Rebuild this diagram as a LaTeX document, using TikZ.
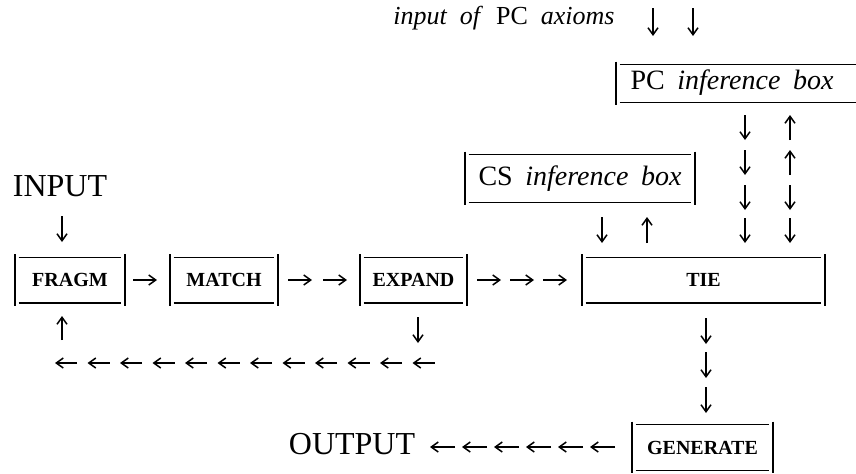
\documentclass[tikz,border=0pt]{standalone}
\usepackage{fontspec}
\setmainfont{Liberation Serif}
\usetikzlibrary{arrows.meta,calc}

\tikzset{
  vbar/.style={line width=1pt},
  hbar/.style={line width=0.6pt},
  flow/.style={line width=0.75pt,-{Straight Barb[length=3.5pt,width=5pt]}},
  stage/.style={inner sep=0pt,minimum height=22.5pt,font=\fontsize{10}{12}\selectfont\bfseries},
  infobox/.style={inner sep=0pt,font=\fontsize{14}{16}\selectfont},
  biglabel/.style={inner sep=0pt,font=\fontsize{16}{18}\selectfont},
}

% a box drawn as two heavy side bars and two lighter rules
\newcommand\barbox[1]{%
  \draw[vbar] ([yshift=1.5pt]#1.north west) -- ([yshift=-1.5pt]#1.south west);
  \draw[vbar] ([yshift=1.5pt]#1.north east) -- ([yshift=-1.5pt]#1.south east);
  \draw[hbar] ([xshift=2pt]#1.north west) -- ([xshift=-2pt]#1.north east);
  \draw[hbar] ([xshift=2pt]#1.south west) -- ([xshift=-2pt]#1.south east);
}

\begin{document}
\begin{tikzpicture}[x=0.5pt,y=-0.5pt]
\useasboundingbox (0,0) rectangle (856,473);

% pipeline stages
\node[stage,minimum width=55pt]   (fragm)  at (70,280)    {FRAGM};
\node[stage,minimum width=54pt]   (match)  at (224,280)   {MATCH};
\node[stage,minimum width=53.5pt] (expand) at (413.5,280) {EXPAND};
\node[stage,minimum width=121.5pt](tie)    at (703.5,280) {TIE};
\node[stage,minimum width=70.5pt] (gen)    at (702.5,447.5) {GENERATE};
\foreach \b in {fragm,match,expand,tie,gen} {\barbox{\b}}

% inference boxes (the PC box runs on past the right margin)
\node[infobox,minimum width=115pt,minimum height=23.5pt] (cs) at (580,178.5)
  {CS\hspace{0.45em}\textit{inference\hspace{0.45em}box}};
\node[inner sep=0pt,minimum width=125pt,minimum height=18.5pt] (pcframe) at (741,83.5) {};
\node[infobox,anchor=base] (pc) at (732,89)
  {PC\hspace{0.45em}\textit{inference\hspace{0.45em}box}};
\barbox{cs}
\barbox{pcframe}

% labels
\node[biglabel] (input)  at (60,186)  {INPUT};
\node[biglabel] (output) at (352,444) {OUTPUT};
\node[inner sep=0pt,anchor=base east,font=\fontsize{13}{15}\selectfont] (axioms) at (615,24)
  {\textit{input\hspace{0.5em}of}\hspace{0.5em}PC\hspace{0.5em}\textit{axioms}};

% input into FRAGM
\draw[flow] (62,216) -- (62,242);

% forward flow between stages
\draw[flow] (133,280) -- (157,280);
\foreach \x in {288,323} {\draw[flow] (\x,280) -- (\x+24,280);}
\foreach \x in {477,510,543} {\draw[flow] (\x,280) -- (\x+24,280);}

% feedback from EXPAND to FRAGM
\draw[flow] (418,317) -- (418,343);
\foreach \i in {0,...,11} {\draw[flow] (55+32.5*\i+22,363) -- (55+32.5*\i,363);}
\draw[flow] (62,340) -- (62,316);

% TIE to GENERATE to OUTPUT
\foreach \y in {318,352,387} {\draw[flow] (706,\y) -- (706,\y+26);}
\foreach \i in {0,...,5} {\draw[flow] (430+32*\i+25,447) -- (430+32*\i,447);}

% CS box exchange with TIE
\draw[flow] (602,217) -- (602,243);
\draw[flow] (647,243) -- (647,217);

% PC box exchange with TIE
\foreach \y in {115,150,185,218} {\draw[flow] (745,\y) -- (745,\y+25);}
\foreach \y in {115,150} {\draw[flow] (790,\y+25) -- (790,\y);}
\foreach \y in {185,218} {\draw[flow] (790,\y) -- (790,\y+25);}

% axioms into PC box
\draw[flow] (653,8) -- (653,36);
\draw[flow] (693,8) -- (693,36);
\end{tikzpicture}
\end{document}
